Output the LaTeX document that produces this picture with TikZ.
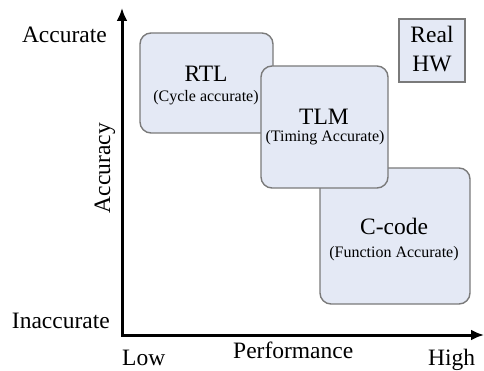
\documentclass[tikz,border=0pt]{standalone}
\usepackage{fontspec}
\setmainfont{Liberation Serif}
\usetikzlibrary{arrows.meta}
\definecolor{boxfill}{HTML}{E4E9F5}
\definecolor{boxline}{HTML}{7A7A7A}
\begin{document}
\begin{tikzpicture}[x=1pt,y=-1pt,
  level/.style={draw=boxline, line width=1.4pt, fill=boxfill, rounded corners=11pt,
                inner sep=0pt, minimum width=#1},
  hwbox/.style={draw=boxline, line width=1.4pt, fill=boxfill, inner sep=0pt},
  bigtxt/.style={font=\fontsize{23.5}{26}\selectfont, anchor=base, inner sep=0pt},
  smalltxt/.style={font=\fontsize{16}{18}\selectfont, anchor=base, inner sep=0pt},
  axistxt/.style={font=\fontsize{23.5}{26}\selectfont, inner sep=0pt}]
\useasboundingbox (0,0) rectangle (484,371);

% abstraction levels
\node[level=133pt, minimum height=100pt] (rtl) at (206.5,83) {};
\node[level=150pt, minimum height=136pt] (ccode) at (395,236) {};
\node[level=127pt, minimum height=122pt] (tlm) at (324.5,127) {};
\node[hwbox, minimum width=66pt, minimum height=63pt] (hw) at (432,50.5) {};

\node[bigtxt] (rtlname) at (206,82) {RTL};
\node[smalltxt] (rtlsub) at (206,102) {(Cycle accurate)};
\node[bigtxt] (tlmname) at (324,125) {TLM};
\node[smalltxt] (tlmsub) at (325,142) {(Timing Accurate)};
\node[bigtxt] (cname) at (394,235) {C-code};
\node[smalltxt] (csub) at (394,257) {(Function Accurate)};
\node[bigtxt] (hwa) at (432,43) {Real};
\node[bigtxt] (hwb) at (432,72) {HW};

% axes
\coordinate (origin) at (122,335);
\coordinate (ytop) at (122,8);
\coordinate (xend) at (484,335);
\draw[line width=3pt, line join=miter,
      {Latex[length=13pt,width=11pt]}-{Latex[length=13pt,width=11pt]}]
  (ytop) -- (origin) -- (xend);

% axis labels
\node[axistxt, anchor=base east] (acc) at (107,43) {Accurate};
\node[axistxt, anchor=base east] (inacc) at (110,328) {Inaccurate};
\node[axistxt, anchor=base, rotate=90] (accy) at (110,168) {Accuracy};
\node[axistxt, anchor=base west] (low) at (122,365) {Low};
\node[axistxt, anchor=base west] (perf) at (233,358) {Performance};
\node[axistxt, anchor=base west] (high) at (428,365) {High};
\end{tikzpicture}
\end{document}
